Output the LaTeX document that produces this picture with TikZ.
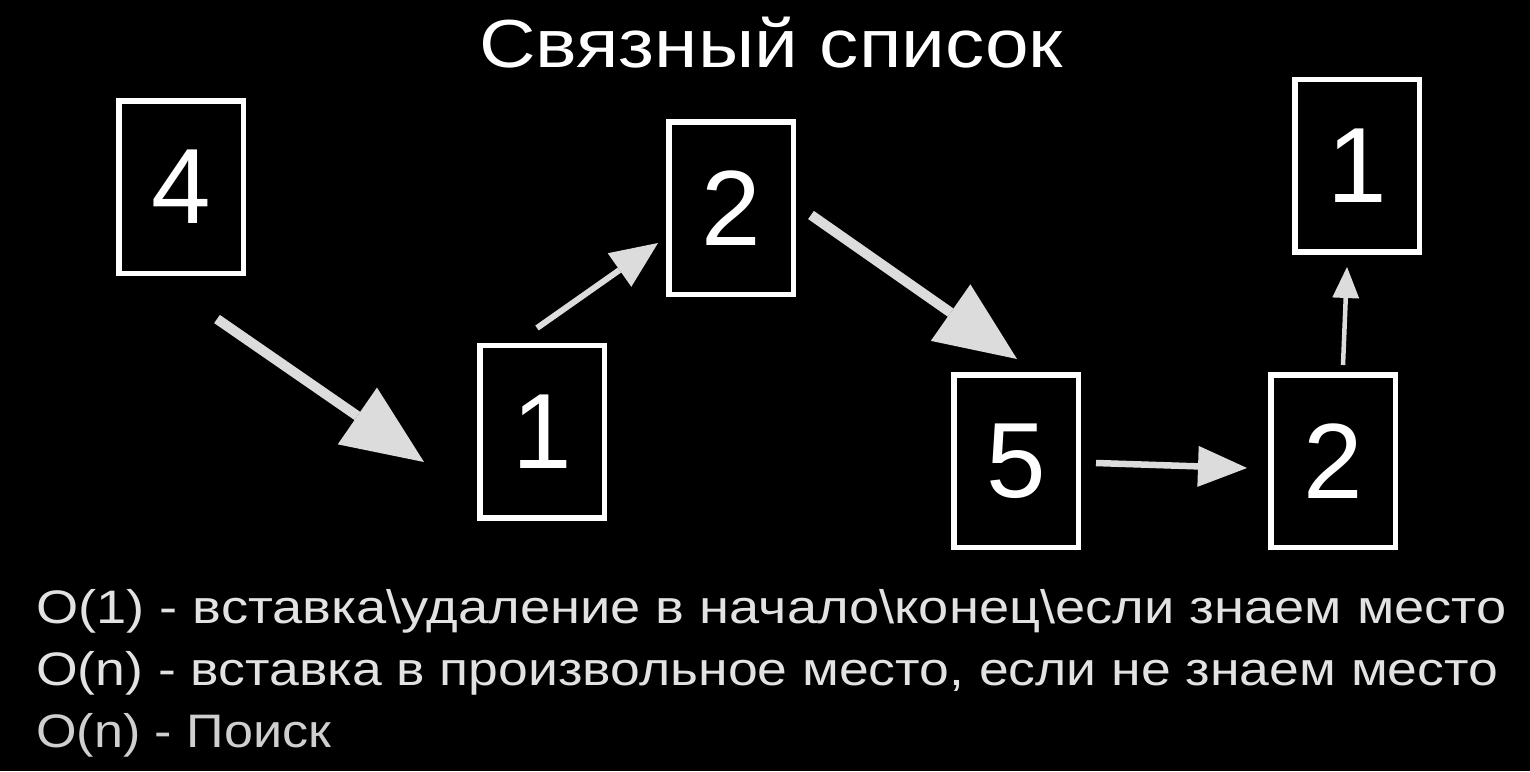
\documentclass[tikz,border=0pt]{standalone}
\usepackage{fontspec}
\usepackage{graphicx}
\setmainfont{Liberation Sans}
\usetikzlibrary{arrows.meta}
\definecolor{arrowgray}{HTML}{DCDCDC}
\definecolor{txtgray}{HTML}{E2E2E2}
\definecolor{txtdim}{HTML}{CFCFCF}
\tikzset{
  cell/.style={draw=white, line width=5.5pt, minimum width=124.5pt, minimum height=172.5pt,
    inner sep=0pt, text=white, font=\fontsize{107}{107}\selectfont},
  bigarrow/.style={draw=arrowgray, line width=10pt,
    -{Triangle[length=81pt, width=69pt, line width=0pt]}},
  midarrow/.style={draw=arrowgray, line width=6.5pt,
    -{Triangle[length=49pt, width=41pt, line width=0pt]}},
  smallarrow/.style={draw=arrowgray, line width=6pt,
    -{Triangle[length=47pt, width=41pt, line width=0pt]}},
  tinyarrow/.style={draw=arrowgray, line width=4.5pt,
    -{Triangle[length=31pt, width=27pt, line width=0pt]}},
  textline/.style={anchor=base west, inner sep=0pt, font=\fontsize{47}{47}\selectfont},
}
\begin{document}
\begin{tikzpicture}[x=1pt, y=-1pt]
\fill[black] (0,0) rectangle (1530,771);
\useasboundingbox (0,0) rectangle (1530,771);

% title
\node[anchor=base west, inner sep=0pt, text=white, font=\fontsize{68}{68}\selectfont]
  (title) at (479,67) {\resizebox{584pt}{\height}{Связный список}};

% cells
\node[cell] (b4) at (181,187) {4};
\node[cell] (b1) at (542,431.5) {1};
\node[cell] (b2) at (731,208) {2};
\node[cell] (b5) at (1016,461) {5};
\node[cell] (b2r) at (1333,461) {2};
\node[cell] (b1r) at (1357,165.5) {1};

% arrow end points
\coordinate (a1s) at (217,319);
\coordinate (a1e) at (424,462);
\coordinate (a2s) at (537,328);
\coordinate (a2e) at (658,243);
\coordinate (a3s) at (811,215);
\coordinate (a3e) at (1017,359);
\coordinate (a4s) at (1096,463);
\coordinate (a4e) at (1247,468);
\coordinate (a5s) at (1343,365);
\coordinate (a5e) at (1347,267);

\draw[bigarrow] (a1s) -- (a1e);
\draw[smallarrow] (a2s) -- (a2e);
\draw[bigarrow] (a3s) -- (a3e);
\draw[midarrow] (a4s) -- (a4e);
\draw[tinyarrow] (a5s) -- (a5e);

% complexity lines
\node[textline, text=txtgray] (l1) at (36,623)
  {\resizebox{1470pt}{\height}{O(1) - вставка\textbackslash удаление в начало\textbackslash конец\textbackslash если знаем место}};
\node[textline, text=txtgray] (l2) at (36,685)
  {\resizebox{1462pt}{\height}{O(n) - вставка в произвольное место, если не знаем место}};
\node[textline, text=txtdim] (l3) at (36,747)
  {\resizebox{295pt}{\height}{O(n) - Поиск}};
\end{tikzpicture}
\end{document}
